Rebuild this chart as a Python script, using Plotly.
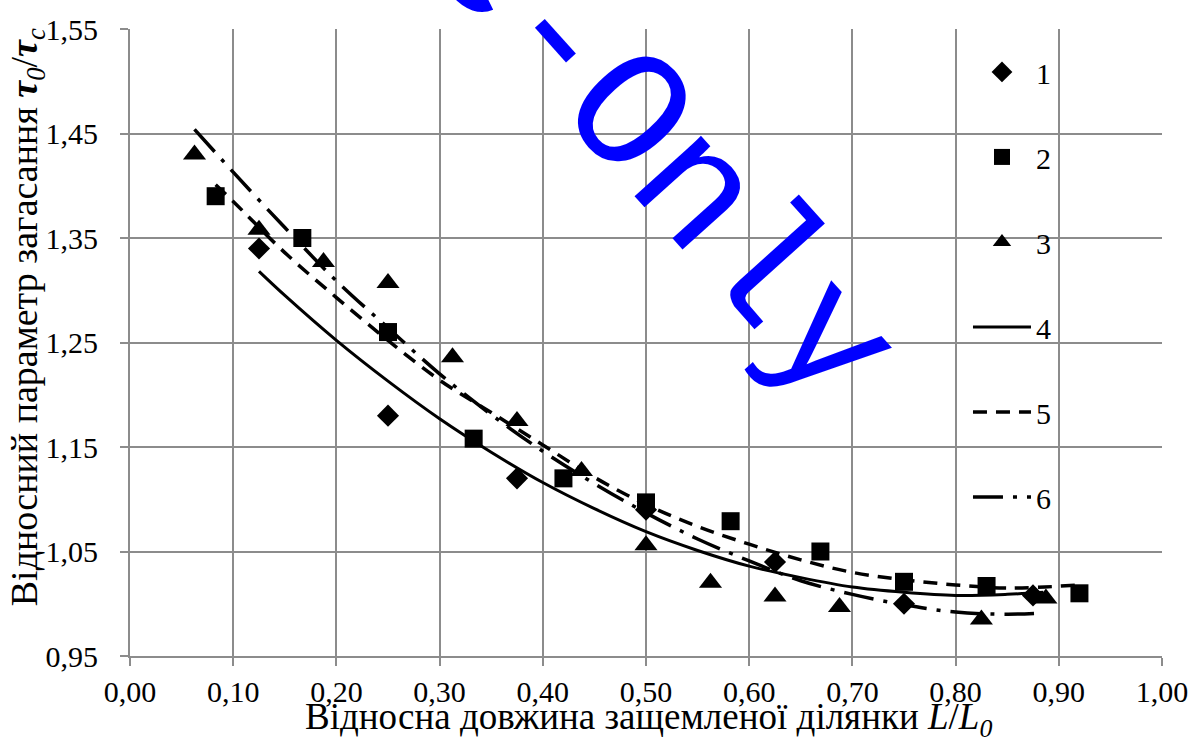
import plotly.graph_objects as go

# ---- data ----
s1_x = [0.125, 0.25, 0.375, 0.5, 0.625, 0.75, 0.875]
s1_y = [1.34, 1.18, 1.12, 1.09, 1.04, 1.00, 1.008]

s2_x = [0.083, 0.167, 0.25, 0.333, 0.42, 0.5, 0.582, 0.669, 0.75, 0.83, 0.92]
s2_y = [1.39, 1.35, 1.26, 1.158, 1.12, 1.097, 1.079, 1.050, 1.021, 1.017, 1.010]

s3_x = [0.0625, 0.125, 0.1875, 0.25, 0.3125, 0.375, 0.4375, 0.5, 0.5625, 0.625, 0.6875, 0.825, 0.8875]
s3_y = [1.430, 1.358, 1.327, 1.307, 1.236, 1.175, 1.127, 1.056, 1.020, 1.007, 0.997, 0.985, 1.005]

l4_x = [0.125, 0.15, 0.2, 0.25, 0.3, 0.35, 0.4, 0.45, 0.5, 0.55, 0.6, 0.65, 0.7, 0.75, 0.8, 0.85, 0.885]
l4_y = [1.318, 1.295, 1.252, 1.213, 1.177, 1.145, 1.116, 1.091, 1.069, 1.051, 1.036, 1.025, 1.016, 1.011, 1.008, 1.009, 1.011]

l5_x = [0.083, 0.1, 0.15, 0.2, 0.25, 0.3, 0.35, 0.4, 0.45, 0.5, 0.55, 0.6, 0.65, 0.7, 0.75, 0.8, 0.85, 0.92]
l5_y = [1.401, 1.385, 1.336, 1.293, 1.252, 1.214, 1.183, 1.152, 1.121, 1.095, 1.074, 1.057, 1.042, 1.030, 1.023, 1.018, 1.015, 1.018]

l6_x = [0.0625, 0.1, 0.15, 0.2, 0.25, 0.3, 0.35, 0.4, 0.45, 0.5, 0.55, 0.6, 0.65, 0.7, 0.75, 0.8, 0.85, 0.88]
l6_y = [1.454, 1.413, 1.360, 1.309, 1.264, 1.220, 1.181, 1.146, 1.115, 1.087, 1.062, 1.041, 1.022, 1.009, 0.999, 0.992, 0.990, 0.991]

legend_names = ["1", "2", "3", "4", "5", "6"]
x_title = "Відносна довжина защемленої ділянки <i>L</i>/<i>L</i><sub><i>0</i></sub>"
y_title = "Відносний параметр загасання <b><i>τ</i></b><sub><i>0</i></sub>/<b><i>τ</i></b><sub><i>c</i></sub>"
watermark = "e-Only"

FONT = "Liberation Serif, Times New Roman, DejaVu Serif, serif"
GRID = "#8c8c8c"

fig = go.Figure()

# fitted curves
fig.add_trace(go.Scatter(x=l4_x, y=l4_y, mode="lines", name=legend_names[3],
                         line=dict(color="black", width=3, shape="spline"),
                         legendgroup="g4", legendrank=4))
fig.add_trace(go.Scatter(x=l5_x, y=l5_y, mode="lines", name=legend_names[4],
                         line=dict(color="black", width=3.5, dash="14px,9px", shape="spline"),
                         legendgroup="g5", legendrank=5))
fig.add_trace(go.Scatter(x=l6_x, y=l6_y, mode="lines", name=legend_names[5],
                         line=dict(color="black", width=3.5, dash="30px,10px,4px,10px", shape="spline"),
                         legendgroup="g6", legendrank=6))

# measured points
fig.add_trace(go.Scatter(x=s1_x, y=s1_y, mode="markers", name=legend_names[0],
                         marker=dict(symbol="diamond", size=17, color="black"),
                         legendgroup="g1", legendrank=1))
fig.add_trace(go.Scatter(x=s2_x, y=s2_y, mode="markers", name=legend_names[1],
                         marker=dict(symbol="square", size=18, color="black"),
                         legendgroup="g2", legendrank=2))
fig.add_trace(go.Scatter(x=s3_x, y=s3_y, mode="markers", name=legend_names[2],
                         marker=dict(symbol="triangle-up", size=20, color="black"),
                         legendgroup="g3", legendrank=3))

fig.update_layout(
    width=1200, height=740,
    paper_bgcolor="white", plot_bgcolor="white",
    margin=dict(l=130, r=38, t=24, b=84),
    separators=", ",
    font=dict(family=FONT, color="black", size=30),
    showlegend=True,
    legend=dict(x=0.812, y=0.973, xanchor="left", yanchor="top",
                bgcolor="rgba(0,0,0,0)", borderwidth=0,
                font=dict(family=FONT, size=30, color="black"),
                tracegroupgap=43, itemwidth=58, traceorder="grouped"),
    xaxis=dict(range=[0, 1], tick0=0, dtick=0.1, tickformat=".2f",
               showgrid=True, gridcolor=GRID, gridwidth=2,
               showline=True, linecolor=GRID, linewidth=2,
               ticks="outside", ticklen=8, tickwidth=2, tickcolor=GRID,
               ticklabelstandoff=0,
               tickfont=dict(family=FONT, size=30, color="black"),
               zeroline=False, fixedrange=True),
    yaxis=dict(range=[0.95, 1.55], tick0=0.95, dtick=0.1, tickformat=".2f",
               showgrid=True, gridcolor=GRID, gridwidth=2,
               showline=True, linecolor=GRID, linewidth=2,
               ticks="outside", ticklen=8, tickwidth=2, tickcolor=GRID,
               ticklabelstandoff=16,
               tickfont=dict(family=FONT, size=30, color="black"),
               zeroline=False, fixedrange=True),
    annotations=[
        dict(text=x_title, xref="paper", yref="paper", x=0.502, y=-0.101,
             xanchor="center", yanchor="middle", showarrow=False,
             font=dict(family=FONT, size=37, color="black")),
        dict(text=y_title, xref="paper", yref="paper", x=-0.099, y=0.54,
             xanchor="center", yanchor="middle", showarrow=False, textangle=-90,
             font=dict(family=FONT, size=38, color="black")),
        dict(text=watermark, xref="paper", yref="paper", x=0.512, y=0.80,
             xanchor="center", yanchor="middle", showarrow=False, textangle=48,
             font=dict(family="Liberation Mono", size=170, color="#0000ff")),
    ],
)

fig.write_html("out.html",
               config={"displayModeBar": False},
               post_script="document.body.style.margin='0';document.body.style.overflow='hidden';")
